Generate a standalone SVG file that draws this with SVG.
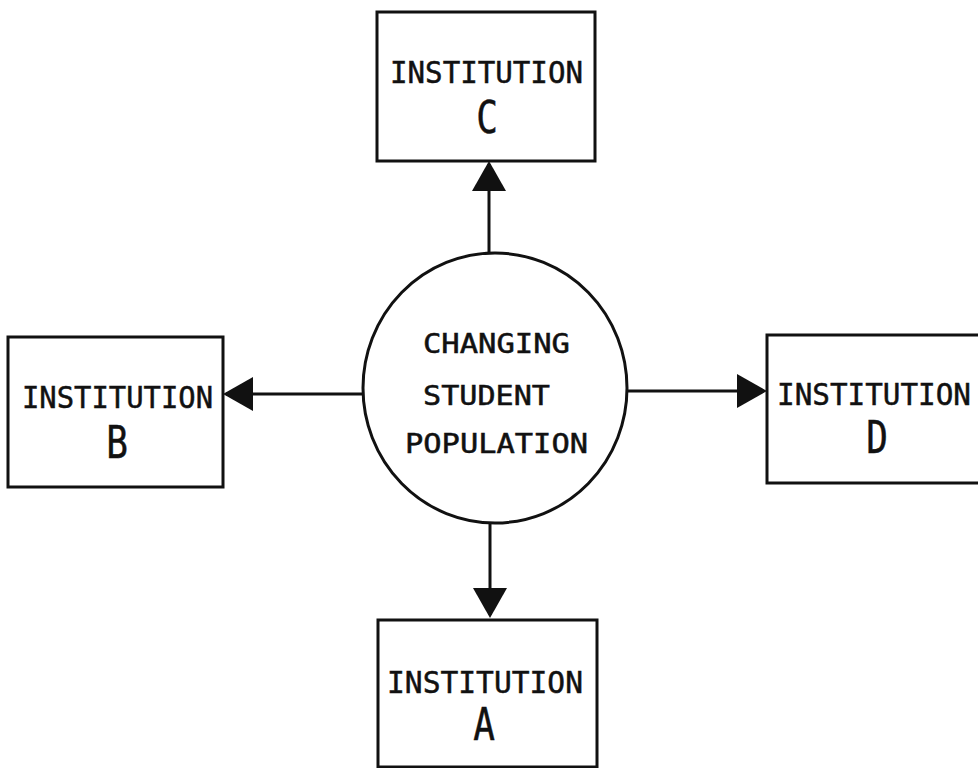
<svg xmlns="http://www.w3.org/2000/svg" width="978" height="768" viewBox="0 0 978 768">
<style>
.box{fill:#fff;stroke:#111;stroke-width:3}
.lbl{font-family:"DejaVu Sans Mono","Liberation Mono",monospace;font-size:31px;fill:#111;stroke:#111;stroke-width:0.5}
.big{font-family:"DejaVu Sans Mono","Liberation Mono",monospace;font-size:45px;fill:#111;stroke:#111;stroke-width:0.5;text-anchor:middle}
.ctr{font-family:"DejaVu Sans Mono","Liberation Mono",monospace;font-size:26px;fill:#111;stroke:#111;stroke-width:0.5}
.con{stroke:#111;stroke-width:3;fill:none;marker-end:url(#ah)}
</style>
<defs>
<marker id="ah" markerUnits="userSpaceOnUse" markerWidth="32" markerHeight="36" refX="27" refY="17" orient="auto">
<path d="M0,0 L30,17 L0,34 Z" fill="#111"/>
</marker>
</defs>
<rect width="978" height="768" fill="#fff"/>
<g id="connectors">
<line class="con" x1="489" y1="253" x2="489" y2="164"/>
<line class="con" x1="363" y1="394" x2="226" y2="394"/>
<line class="con" x1="627" y1="391" x2="764" y2="391"/>
<line class="con" x1="490" y1="523" x2="490" y2="615"/>
</g>
<g id="center">
<ellipse cx="495" cy="388" rx="132" ry="135" fill="#fff" stroke="#111" stroke-width="3"/>
<text class="ctr" x="423" y="353" textLength="147" lengthAdjust="spacingAndGlyphs">CHANGING</text>
<text class="ctr" x="423" y="405" textLength="127" lengthAdjust="spacingAndGlyphs">STUDENT</text>
<text class="ctr" x="405" y="453" textLength="183" lengthAdjust="spacingAndGlyphs">POPULATION</text>
</g>
<g id="instC">
<rect class="box" x="377" y="12" width="218" height="149"/>
<text class="lbl" x="390" y="83" textLength="193" lengthAdjust="spacingAndGlyphs">INSTITUTION</text>
<text class="big" transform="translate(487,133) scale(0.8,1)">C</text>
</g>
<g id="instB">
<rect class="box" x="8" y="337" width="215" height="150"/>
<text class="lbl" x="22" y="408" textLength="191" lengthAdjust="spacingAndGlyphs">INSTITUTION</text>
<text class="big" transform="translate(117,458) scale(0.8,1)">B</text>
</g>
<g id="instD">
<rect class="box" x="767" y="335" width="225" height="148"/>
<text class="lbl" x="777" y="405" textLength="194" lengthAdjust="spacingAndGlyphs">INSTITUTION</text>
<text class="big" transform="translate(877,453) scale(0.8,1)">D</text>
</g>
<g id="instA">
<rect class="box" x="378" y="620" width="219" height="147"/>
<text class="lbl" x="387" y="693" textLength="196" lengthAdjust="spacingAndGlyphs">INSTITUTION</text>
<text class="big" transform="translate(484,740) scale(0.8,1)">A</text>
</g>
</svg>
